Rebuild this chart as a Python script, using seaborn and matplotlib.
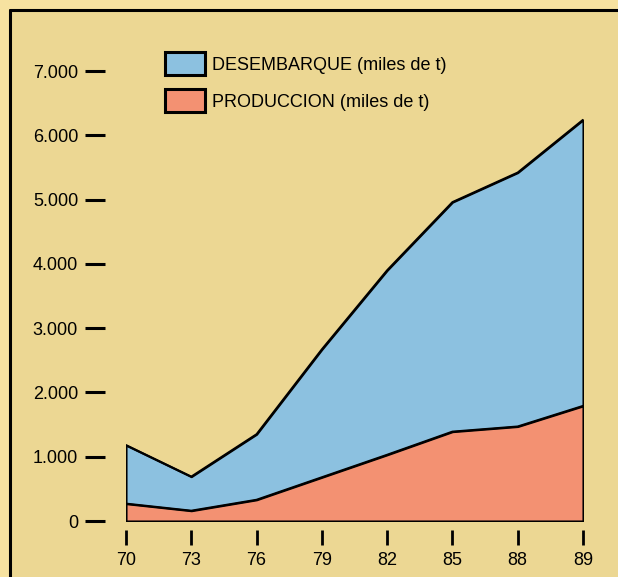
import numpy as np
import pandas as pd
import seaborn as sns
import matplotlib.pyplot as plt
from matplotlib.patches import Patch
from matplotlib.lines import Line2D

# datos
years = ['70', '73', '76', '79', '82', '85', '88', '89']
desembarque = [1180, 690, 1350, 2670, 3900, 4960, 5420, 6240]
produccion = [270, 160, 330, 680, 1030, 1390, 1470, 1790]
yticks = [0, 1000, 2000, 3000, 4000, 5000, 6000, 7000]
ytick_labels = ['0', '1.000', '2.000', '3.000', '4.000', '5.000', '6.000', '7.000']

df = pd.DataFrame({'year': years, 'pos': np.arange(len(years)),
                   'desembarque': desembarque, 'produccion': produccion})

sns.set_theme(style='ticks')
plt.rcParams['font.family'] = ['Liberation Sans', 'DejaVu Sans']

bg = '#ecd793'
outer = '#f7e2a0'
blue = '#8cc1e0'
red = '#f39172'

fig = plt.figure(figsize=(6.18, 5.77), dpi=100, facecolor=outer)
# fondo del recuadro
fig.patches.append(plt.Rectangle((10/618, 0), 1, 1 - 10/577, transform=fig.transFigure,
                                 facecolor=bg, edgecolor='none', zorder=-5))
fig.add_artist(Line2D([10/618, 1], [1 - 10/577, 1 - 10/577], color='black', lw=2.2, zorder=-4))
fig.add_artist(Line2D([10/618, 10/618], [0, 1 - 10/577], color='black', lw=2.2, zorder=-4))

ax = fig.add_axes([126/618, (577 - 521)/577, (583 - 126)/618, (521 - 71)/577])
ax.set_facecolor('none')
ax.set_zorder(1)

ax.fill_between(df['pos'], 0, df['desembarque'], facecolor=blue, edgecolor='black',
                linewidth=1.5, zorder=2)
ax.fill_between(df['pos'], 0, df['produccion'], facecolor=red, edgecolor='black',
                linewidth=1.5, zorder=3)
sns.lineplot(data=df, x='pos', y='desembarque', color='black', lw=1.5, ax=ax, zorder=4)
sns.lineplot(data=df, x='pos', y='produccion', color='black', lw=1.5, ax=ax, zorder=4)

ax.set_xlim(0, len(years) - 1)
ax.set_ylim(0, 7000)
ax.set_xticks(df['pos'])
ax.set_xticklabels(years)
ax.set_yticks(yticks)
ax.set_yticklabels(ytick_labels)
ax.set_xlabel('')
ax.set_ylabel('')

for s in ['top', 'right']:
    ax.spines[s].set_visible(False)
ax.spines['left'].set_position(('outward', 15))
ax.spines['bottom'].set_position(('outward', 6.5))
ax.spines['left'].set_visible(False)
ax.spines['bottom'].set_visible(False)

ax.tick_params(axis='y', direction='out', length=14.5, width=2.2, pad=5,
               labelsize=13, color='black', labelcolor='black')
ax.tick_params(axis='x', direction='out', length=11, width=2.0, pad=5,
               labelsize=13, color='black', labelcolor='black')

handles = [Patch(facecolor=blue, edgecolor='black', linewidth=2.2, label='DESEMBARQUE (miles de t)'),
           Patch(facecolor=red, edgecolor='black', linewidth=2.2, label='PRODUCCION (miles de t)')]
ax.legend(handles=handles, loc='upper left', bbox_to_anchor=(165/618, 1 - 52/577),
          bbox_transform=fig.transFigure, frameon=False, fontsize=13, labelcolor='black',
          handlelength=2.2, handleheight=1.6, labelspacing=0.78, handletextpad=0.4,
          borderpad=0, borderaxespad=0)

fig.savefig('out.png', dpi=100, facecolor=fig.get_facecolor())
